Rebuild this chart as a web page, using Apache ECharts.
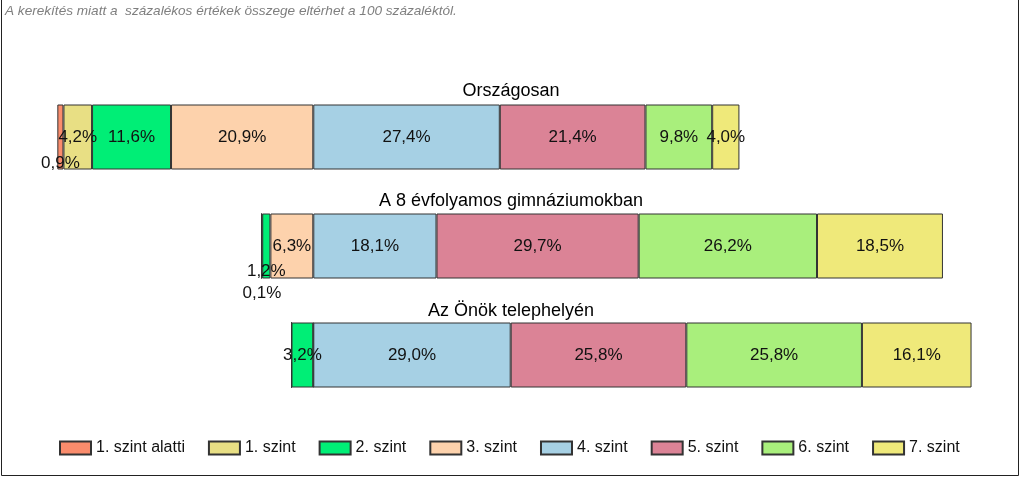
<!DOCTYPE html>
<html>
<head>
<meta charset="utf-8">
<script src="https://cdn.jsdelivr.net/npm/echarts@6/dist/echarts.min.js"></script>
<style>
html,body{margin:0;padding:0;background:#fff;}
#c{width:1024px;height:478px;}
</style>
</head>
<body>
<div id="c"></div>
<script>
const categories = ['Országosan', 'A 8 évfolyamos gimnáziumokban', 'Az Önök telephelyén'];
const levelNames = ['1. szint alatti', '1. szint', '2. szint', '3. szint', '4. szint', '5. szint', '6. szint', '7. szint'];
const below1 = [0.9, 0, 0];
const level1 = [4.2, 0.1, 0];
const level2 = [11.6, 1.2, 3.2];
const level3 = [20.9, 6.3, 0];
const level4 = [27.4, 18.1, 29.0];
const level5 = [21.4, 29.7, 25.8];
const level6 = [9.8, 26.2, 25.8];
const level7 = [4.0, 18.5, 16.1];
const note = 'A kerekítés miatt a  százalékos értékek összege eltérhet a 100 százaléktól.';

const levels = [below1, level1, level2, level3, level4, level5, level6, level7];
const colors = ['#FA8C6C', '#E8DF84', '#00EE76', '#FDD2AC', '#A6D0E4', '#DB8396', '#A9EF7C', '#EFE97A'];
// label offsets for crowded small segments: [levelIndex][categoryIndex]
const labelOffsets = {'0-0': [0, 26], '1-1': [0, 47], '2-1': [0, 25]};

const offsets = categories.map((c, i) => -(below1[i] + level1[i] + level2[i] + level3[i]));

const fmt = v => v.toFixed(1).replace('.', ',') + '%';

const series = [{
  name: 'base',
  type: 'bar',
  stack: 'total',
  stackStrategy: 'all',
  barWidth: 65,
  silent: true,
  itemStyle: {color: 'rgba(0,0,0,0)', borderWidth: 0},
  label: {show: false},
  data: offsets
}];
levels.forEach((arr, li) => {
  series.push({
    name: levelNames[li],
    type: 'bar',
    stack: 'total',
    stackStrategy: 'all',
    barWidth: 65,
    itemStyle: {color: colors[li], borderColor: '#333', borderWidth: 1},
    label: {
      show: true,
      position: 'inside',
      color: '#111',
      fontSize: 17,
      fontFamily: 'Liberation Sans, Arial, sans-serif',
      formatter: p => p.value ? fmt(p.value) : ''
    },
    data: arr.map((v, ci) => {
      const off = labelOffsets[li + '-' + ci];
      if (off) return {value: v, label: {offset: off}};
      return v;
    })
  });
});

const titleTops = [91, 201, 311];
const graphics = [
  {type: 'rect', shape: {x: 1.5, y: -2, width: 1017, height: 477.5}, style: {fill: 'none', stroke: '#222', lineWidth: 1}, silent: true},
  {type: 'text', x: 5, y: 11, style: {text: note, font: 'italic 13.6px "Liberation Sans", Arial, sans-serif', fill: '#7f7f7f', textVerticalAlign: 'middle'}}
];
categories.forEach((c, i) => {
  graphics.push({type: 'text', x: 511, y: titleTops[i], style: {text: c, font: '18px "Liberation Sans", Arial, sans-serif', fill: '#000', textAlign: 'center', textVerticalAlign: 'middle'}});
});

const chart = echarts.init(document.getElementById('c'));
chart.setOption({
  animation: false,
  backgroundColor: '#fff',
  grid: {left: 41, right: 30, top: 82.5, height: 327, containLabel: false},
  xAxis: {type: 'value', min: -40, max: 100, show: false},
  yAxis: {type: 'category', data: categories, inverse: true, show: false},
  legend: {
    data: levelNames,
    left: 59,
    top: 440,
    padding: 0,
    itemWidth: 31,
    itemHeight: 13,
    itemGap: 23,
    icon: 'rect',
    textStyle: {fontSize: 16, color: '#111', fontFamily: 'Liberation Sans, Arial, sans-serif'}
  },
  graphic: graphics,
  series: series
});
</script>
</body>
</html>
